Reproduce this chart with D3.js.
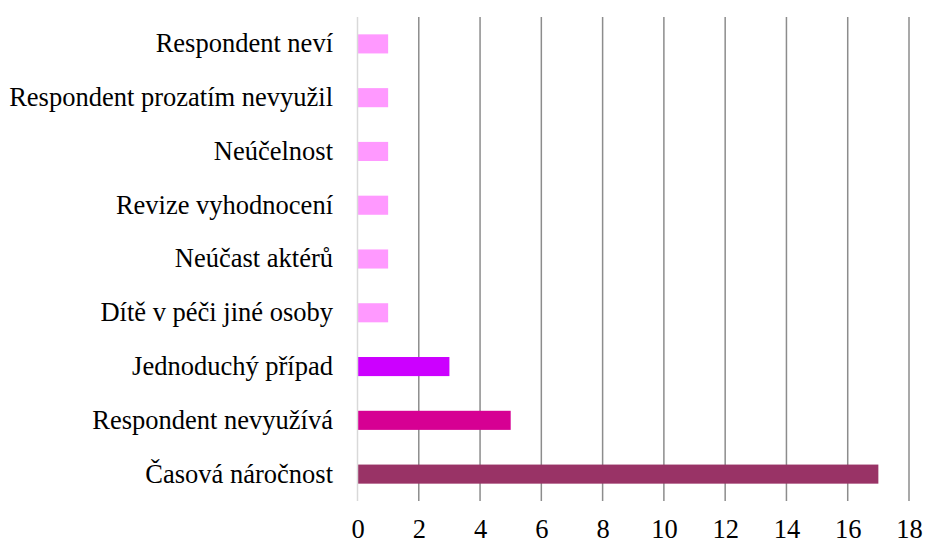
<!DOCTYPE html>
<html>
<head>
<meta charset="utf-8">
<script src="https://cdn.jsdelivr.net/npm/d3@7"></script>
<style>
  body { margin: 0; background: #fff; }
</style>
</head>
<body>
<div id="chart"></div>
<script>
// categories top to bottom
var categories = [
    "Respondent neví",
    "Respondent prozatím nevyužil",
    "Neúčelnost",
    "Revize vyhodnocení",
    "Neúčast aktérů",
    "Dítě v péči jiné osoby",
    "Jednoduchý případ",
    "Respondent nevyužívá",
    "Časová náročnost"
];
var values = [1, 1, 1, 1, 1, 1, 3, 5, 17];
var barColors = ["#ff99ff", "#ff99ff", "#ff99ff", "#ff99ff", "#ff99ff", "#ff99ff", "#cc00ff", "#d60093", "#993366"];
var xTicks = [0, 2, 4, 6, 8, 10, 12, 14, 16, 18];

var margin = { top: 17, right: 16, bottom: 41, left: 357.5 };
var width = 925 - margin.left - margin.right;
var height = 542 - margin.top - margin.bottom;

var svg = d3.select("#chart")
    .append("svg")
    .attr("width", 925)
    .attr("height", 542)
    .append("g")
    .attr("transform", "translate(" + margin.left + "," + margin.top + ")");

var x = d3.scaleLinear().domain([0, 18]).range([0, 551.5]);
var y = d3.scaleBand().domain(categories).range([0, height]).paddingInner(0.645).paddingOuter(0.3225);

// vertical gridlines
svg.selectAll("line.grid")
    .data(xTicks.slice(1))
    .enter()
    .append("line")
    .attr("class", "grid")
    .attr("x1", function (d) { return x(d); })
    .attr("x2", function (d) { return x(d); })
    .attr("y1", 0)
    .attr("y2", height)
    .attr("stroke", "#8c8c8c")
    .attr("stroke-width", 1.5);

// bars
svg.selectAll("rect.bar")
    .data(values)
    .enter()
    .append("rect")
    .attr("class", "bar")
    .attr("x", x(0))
    .attr("y", function (d, i) { return y(categories[i]); })
    .attr("width", function (d) { return x(d) - x(0); })
    .attr("height", y.bandwidth())
    .attr("fill", function (d, i) { return barColors[i]; });

// zero axis line
svg.append("line")
    .attr("x1", x(0)).attr("x2", x(0))
    .attr("y1", 0).attr("y2", height)
    .attr("stroke", "#d9d9d9")
    .attr("stroke-width", 1.5);

// x axis labels
var xAxis = svg.append("g")
    .attr("transform", "translate(0," + height + ")")
    .call(d3.axisBottom(x).tickValues(xTicks).tickSize(0).tickPadding(18));
xAxis.select(".domain").remove();

// y axis labels
var yAxis = svg.append("g")
    .call(d3.axisLeft(y).tickSize(0).tickPadding(24.5));
yAxis.select(".domain").remove();

[xAxis, yAxis].forEach(function (ax) {
    ax.attr("font-family", "'Liberation Serif'").attr("font-size", 26.5);
    ax.selectAll("text")
        .attr("font-family", "'Liberation Serif'")
        .attr("font-size", 26.5)
        .attr("fill", "#000");
});
</script>
</body>
</html>
